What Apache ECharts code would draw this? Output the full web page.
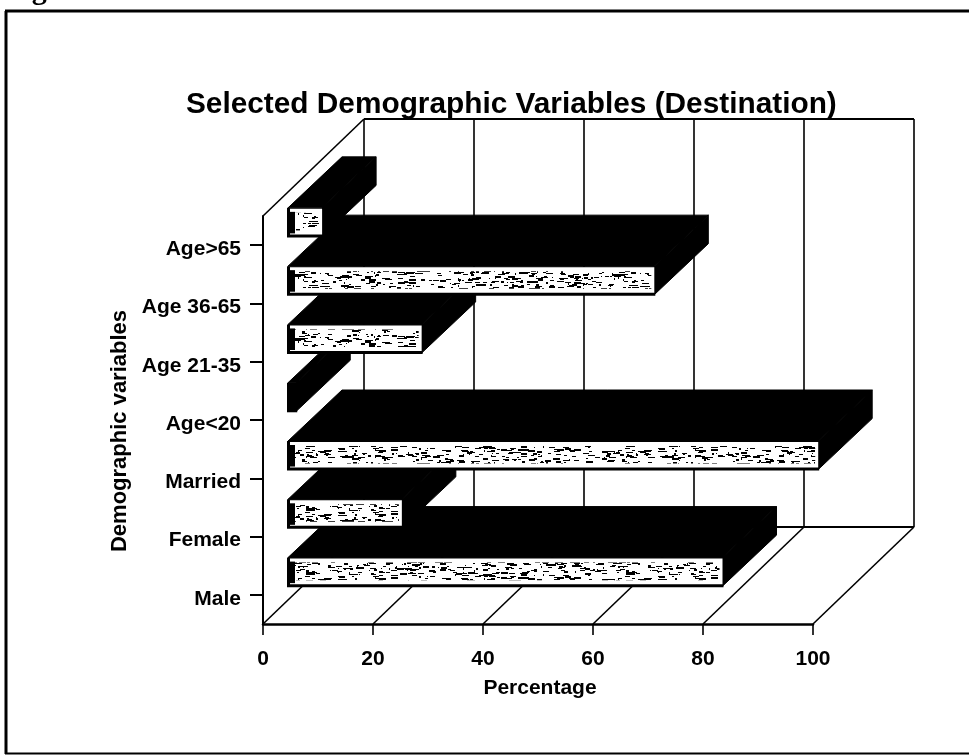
<!DOCTYPE html>
<html>
<head>
<meta charset="utf-8">
<style>html,body{margin:0;padding:0;background:#fff}#c{width:969px;height:755px}</style>
<script src="https://cdn.jsdelivr.net/npm/echarts@6/dist/echarts.min.js"></script>
</head>
<body>
<div id="c"></div>
<script>
const categories = ['Male','Female','Married','Age<20','Age 21-35','Age 36-65','Age>65'];
const values = [79, 20.7, 96.4, 1.5, 24.3, 66.6, 6.2];
const xTicks = [0, 20, 40, 60, 80, 100];
const titleText = 'Selected Demographic Variables (Destination)';
const xName = 'Percentage';
const yName = 'Demographic variables';
const captionText = 'Figure 7.6';

const FONT = '"Liberation Sans", Arial, sans-serif';
const WALL = [101, -97];
const BAR_SHIFT = [25, -23];
const BAR_DEPTH = [54, -51];

function makeTexture() {
  const cv = document.createElement('canvas');
  cv.width = 320; cv.height = 64;
  const g = cv.getContext('2d');
  g.fillStyle = '#fff'; g.fillRect(0, 0, 320, 64);
  g.fillStyle = '#000';
  let s = 12345;
  const next = () => (s = (s * 1103515245 + 12345) & 0x7fffffff) / 0x7fffffff;
  for (let i = 0; i < 1000; i++) {
    const x = next() * 320, y = next() * 64;
    g.fillRect(x | 0, y | 0, 1 + (next() * 7 | 0), 1 + (next() * 1.6 | 0));
  }
  return cv;
}
const texture = makeTexture();

function renderWall(params, api) {
  const v = api.value(0);
  const band = api.size([0, 1])[1];
  const bottomY = api.coord([0, 0])[1] + band / 2;
  const topY = api.coord([0, categories.length - 1])[1] - band / 2;
  const x = api.coord([v, 0])[0];
  const x0 = api.coord([xTicks[0], 0])[0];
  const x1 = api.coord([xTicks[xTicks.length - 1], 0])[0];
  const st = { stroke: '#000', lineWidth: 1.6, fill: 'none' };
  const line = (a, b, c, d, w) => ({
    type: 'line', shape: { x1: a, y1: b, x2: c, y2: d },
    style: Object.assign({}, st, w ? { lineWidth: w } : {})
  });
  const kids = [
    line(x, bottomY, x + WALL[0], bottomY + WALL[1]),
    line(x + WALL[0], bottomY + WALL[1], x + WALL[0], topY + WALL[1])
  ];
  if (params.dataIndex === 0) {
    kids.push(line(x0, topY, x0 + WALL[0], topY + WALL[1]));
    kids.push(line(x0 + WALL[0], topY + WALL[1], x1 + WALL[0], topY + WALL[1], 2));
    kids.push(line(x0 + WALL[0], bottomY + WALL[1], x1 + WALL[0], bottomY + WALL[1], 2));
  }
  return { type: 'group', children: kids };
}

function renderBar(params, api) {
  const band = api.size([0, 1])[1];
  const h = band * 0.49;
  const end = api.coord([api.value(0), api.value(1)]);
  const start = api.coord([0, api.value(1)]);
  const l = start[0] + BAR_SHIFT[0];
  const r = end[0] + BAR_SHIFT[0];
  const t = end[1] + BAR_SHIFT[1] - h / 2;
  const b = t + h;
  const dx = BAR_DEPTH[0], dy = BAR_DEPTH[1];
  const black = { fill: '#000', stroke: '#000', lineWidth: 1 };
  const kids = [
    { type: 'polygon', shape: { points: [[l, t], [l + dx, t + dy], [r + dx, t + dy], [r, t]] }, style: black },
    { type: 'polygon', shape: { points: [[r, t], [r + dx, t + dy], [r + dx, b + dy], [r, b]] }, style: black },
    { type: 'rect', shape: { x: l - 1, y: t, width: r - l + 2, height: h + 1 }, style: { fill: '#000' } }
  ];
  const w = r - l;
  if (w > 10) {
    kids.push({ type: 'rect', shape: { x: l + 2, y: t + 1, width: w - 2, height: h - 3 }, style: { fill: '#fff' } });
    kids.push({ type: 'rect', shape: { x: l + 3, y: t + 5, width: w - 6, height: h - 11 },
      style: { fill: { image: texture, repeat: 'repeat' } } });
    kids.push({ type: 'rect', shape: { x: l + 2, y: t + 4, width: Math.min(5, w - 4), height: h - 7 }, style: { fill: '#000' } });
  }
  return { type: 'group', children: kids };
}

const barData = categories.map((c, i) => [values[i], i]);

const chart = echarts.init(document.getElementById('c'), null, { renderer: 'canvas' });
chart.setOption({
  animation: false,
  backgroundColor: '#fff',
  title: {
    text: titleText, left: 181, top: 85,
    textStyle: { fontFamily: FONT, fontWeight: 'bold', fontSize: 29.8, color: '#000' }
  },
  grid: { left: 263, right: 156, top: 216, bottom: 131 },
  xAxis: {
    type: 'value', min: 0, max: 100, interval: 20,
    name: xName, nameLocation: 'middle', nameGap: 54,
    nameTextStyle: { fontFamily: FONT, fontWeight: 'bold', fontSize: 21, color: '#000', padding: [0, 0, 0, 4] },
    axisLine: { show: true, lineStyle: { color: '#000', width: 2.5 } },
    axisTick: { show: true, length: 11, lineStyle: { color: '#000', width: 1.6 } },
    axisLabel: { margin: 25, fontFamily: FONT, fontWeight: 'bold', fontSize: 21, color: '#000' },
    splitLine: { show: false }
  },
  yAxis: {
    type: 'category', data: categories,
    name: yName, nameLocation: 'middle', nameGap: 131, nameRotate: 90,
    nameTextStyle: { fontFamily: FONT, fontWeight: 'bold', fontSize: 22, color: '#000', padding: [0, 22, 0, 0] },
    axisLine: { show: true, lineStyle: { color: '#000', width: 2 } },
    axisTick: { show: true, alignWithLabel: true, length: 13, lineStyle: { color: '#000', width: 2 } },
    axisLabel: {
      margin: 22, color: '#000',
      formatter: v => '{a|' + v + '}',
      rich: { a: { fontFamily: FONT, fontWeight: 'bold', fontSize: 21, color: '#000', padding: [8, 0, 0, 0] } }
    },
    splitLine: { show: false }
  },
  series: [
    { type: 'custom', name: 'walls', coordinateSystem: 'cartesian2d', clip: false, silent: true, z: 1,
      renderItem: renderWall, encode: { x: 0, y: 1 }, data: xTicks.map(v => [v, 0]) },
    { type: 'custom', name: 'Percentage', coordinateSystem: 'cartesian2d', clip: false, z: 3,
      renderItem: renderBar, encode: { x: 0, y: 1 }, data: barData }
  ],
  graphic: [
    { type: 'line', shape: { x1: 6, y1: 11, x2: 6, y2: 754 }, style: { stroke: '#000', lineWidth: 3 } },
    { type: 'line', shape: { x1: 5, y1: 11, x2: 969, y2: 11 }, style: { stroke: '#000', lineWidth: 3 } },
    { type: 'line', shape: { x1: 5, y1: 753.5, x2: 969, y2: 753.5 }, style: { stroke: '#000', lineWidth: 2 } },
    { type: 'text', left: 5, top: -24, style: { text: captionText, font: 'bold 30px "Liberation Serif"', fill: '#000' } }
  ]
});
</script>
</body>
</html>
